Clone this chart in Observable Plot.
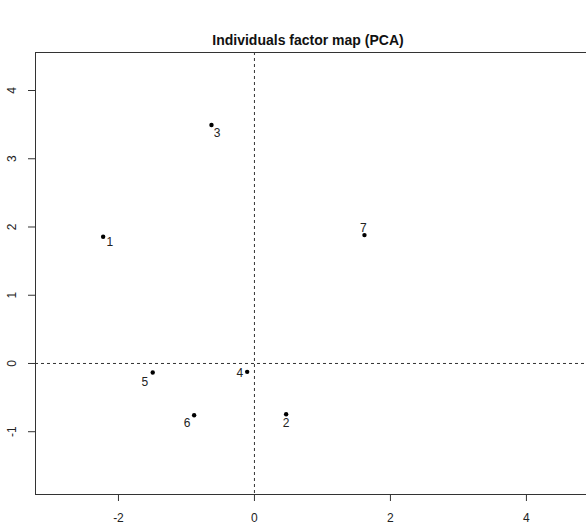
<!DOCTYPE html>
<html>
<head>
<meta charset="utf-8">
<script src="https://cdn.jsdelivr.net/npm/d3@7"></script>
<script src="https://cdn.jsdelivr.net/npm/@observablehq/plot@0.6"></script>
<style>
  html, body { margin: 0; padding: 0; background: #fff; overflow: hidden; }
  #wrap { position: relative; width: 600px; height: 522px; font-family: "Liberation Sans", Arial, sans-serif; }
  #title { position: absolute; z-index: 2; left: 0; width: 616px; top: 32px; text-align: center; font-weight: bold; font-size: 14px; line-height: 16px; color: #111; }
  #chart { position: absolute; z-index: 1; left: 0; top: 46px; }
</style>
</head>
<body>
<div id="wrap">
  <div id="title"></div>
  <div id="chart"></div>
</div>
<script>
const title = "Individuals factor map (PCA)";
const ids  = ["1", "2", "3", "4", "5", "6", "7"];
const dim1 = [-2.225, 0.466, -0.632, -0.107, -1.496, -0.887, 1.618];
const dim2 = [1.856, -0.743, 3.494, -0.123, -0.132, -0.758, 1.881];
const xTicks = [-2, 0, 2, 4];
const yTicks = [-1, 0, 1, 2, 3, 4];

const data = ids.map((id, i) => ({id, x: dim1[i], y: dim2[i]}));

// label placement (avoid overlap, like FactoMineR autoLab)
const labelOffset = {
  "1": [6.6, 5], "2": [0, 8.7], "3": [5.7, 8.3], "4": [-7.4, 1.6],
  "5": [-8, 9.4], "6": [-7, 8], "7": [-1, -7]
};

document.getElementById("title").textContent = title;

const ink = "#333";
const chart = Plot.plot({
  width: 600,
  height: 476,
  marginLeft: 35,
  marginRight: 2,
  marginTop: 6,
  marginBottom: 28,
  style: {fontFamily: "Liberation Sans, Arial, sans-serif", fontSize: "12px", background: "transparent", overflow: "visible"},
  x: {domain: [-3.22, 5.06], label: null},
  y: {domain: [-1.92, 4.557], label: null},
  marks: [
    Plot.ruleX([0], {stroke: ink, strokeDasharray: "3,3", strokeWidth: 1}),
    Plot.ruleY([0], {stroke: ink, strokeDasharray: "3,3", strokeWidth: 1}),
    Plot.frame({stroke: ink, strokeWidth: 1}),
    Plot.axisX({ticks: xTicks, tickSize: 7, tickPadding: 12, stroke: ink, fill: "#222", fontSize: 12, label: null, tickFormat: d => String(d)}),
    Plot.axisY({ticks: yTicks, tickSize: 7, stroke: ink, label: null, tickFormat: () => ""}),
    Plot.text(yTicks, {y: d => d, text: d => String(d), frameAnchor: "left", dx: -23, rotate: -90, fill: "#222", fontSize: 12, textAnchor: "middle", lineAnchor: "middle"}),
    Plot.dot(data, {x: "x", y: "y", r: 2.2, fill: "#000", stroke: null}),
    ...ids.map(id => Plot.text(data.filter(d => d.id === id), {
      x: "x", y: "y", text: "id", dx: labelOffset[id][0], dy: labelOffset[id][1],
      fill: "#222", fontSize: 12, textAnchor: "middle", lineAnchor: "middle"
    }))
  ]
});
document.getElementById("chart").appendChild(chart);
</script>
</body>
</html>
